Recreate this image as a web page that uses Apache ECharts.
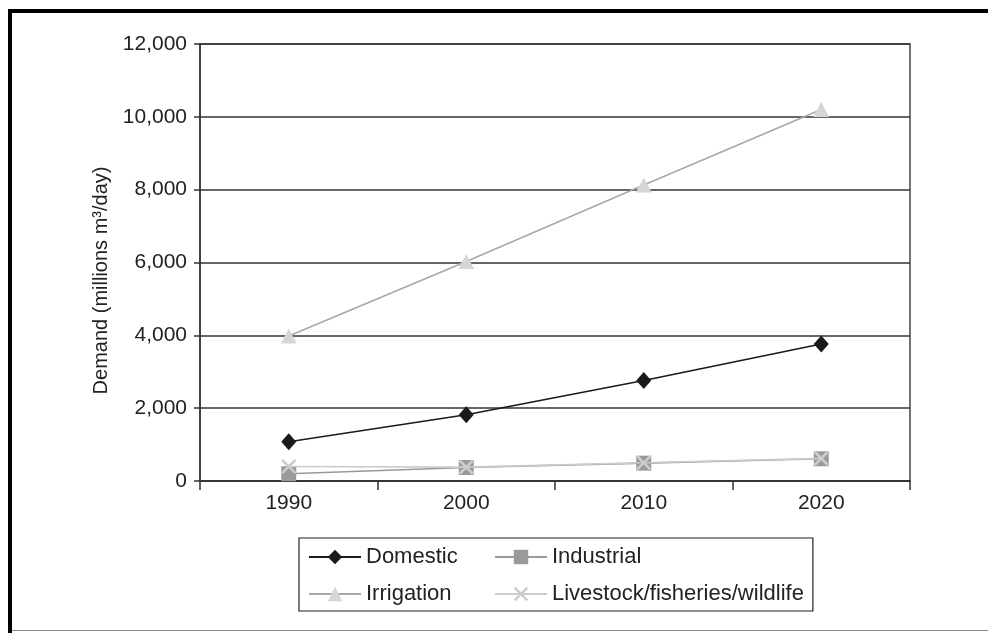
<!DOCTYPE html>
<html>
<head>
<meta charset="utf-8">
<script src="https://cdn.jsdelivr.net/npm/echarts@6/dist/echarts.min.js"></script>
<style>
html,body{margin:0;padding:0;background:#fff;}
#chart{width:988px;height:633px;}
</style>
</head>
<body>
<div id="chart"></div>
<script>
const years = ['1990', '2000', '2010', '2020'];
const domestic = [1080, 1820, 2760, 3760];
const industrial = [200, 370, 490, 610];
const irrigation = [3980, 6030, 8130, 10200];
const livestock = [400, 380, 500, 620];
const yAxisTitle = 'Demand (millions m³/day)';

const FONT = '"Liberation Sans", Arial, Helvetica, sans-serif';
const crossPath = 'path://M0,1.2L1.2,0L5,3.8L8.8,0L10,1.2L6.2,5L10,8.8L8.8,10L5,6.2L1.2,10L0,8.8L3.8,5Z';

const chart = echarts.init(document.getElementById('chart'), null, {renderer: 'canvas'});
const legendTextW = 113;
chart.setOption({
  animation: false,
  backgroundColor: '#fff',
  graphic: [
    {type: 'rect', shape: {x: 8, y: 9, width: 980, height: 4}, style: {fill: '#000'}},
    {type: 'rect', shape: {x: 8, y: 9, width: 4, height: 624}, style: {fill: '#000'}},
    {type: 'rect', shape: {x: 12, y: 630, width: 976, height: 1}, style: {fill: '#888'}}
  ],
  grid: {left: 200, right: 78, top: 44, bottom: 152, show: true, borderColor: '#444', borderWidth: 1.5, backgroundColor: 'transparent'},
  legend: {
    left: 299, top: 538,
    width: 500,
    orient: 'horizontal',
    padding: [8, 9, 6, 9],
    itemGap: 15,
    itemWidth: 52,
    itemHeight: 18,
    borderColor: '#222',
    borderWidth: 1.2,
    borderRadius: 0,
    textStyle: {fontFamily: FONT, fontSize: 22, color: '#222', lineHeight: 21},
    data: [
      {name: 'Domestic', textStyle: {width: legendTextW}},
      {name: 'Industrial', textStyle: {width: legendTextW}},
      {name: 'Irrigation', textStyle: {width: legendTextW}},
      {name: 'Livestock/fisheries/wildlife'}
    ]
  },
  xAxis: {
    type: 'category',
    data: years,
    boundaryGap: true,
    axisLine: {lineStyle: {color: '#333', width: 1.5}},
    axisTick: {show: true, length: 9, interval: 0, lineStyle: {color: '#333', width: 1.5}},
    axisLabel: {fontFamily: FONT, fontSize: 21, color: '#222', margin: 12},
    splitLine: {show: false}
  },
  yAxis: {
    type: 'value',
    min: 0, max: 12000, interval: 2000,
    name: yAxisTitle,
    nameLocation: 'middle',
    nameGap: 84,
    nameRotate: 90,
    nameTextStyle: {fontFamily: FONT, fontSize: 20, color: '#222', padding: [0, 36, 0, 0]},
    axisLine: {show: true, lineStyle: {color: '#333', width: 1.5}},
    axisTick: {show: true, length: 6, lineStyle: {color: '#333', width: 1.5}},
    axisLabel: {fontFamily: FONT, fontSize: 21, color: '#222', margin: 13,
      formatter: v => v.toLocaleString('en-US')},
    splitLine: {show: true, lineStyle: {color: '#333', width: 1.5}}
  },
  series: [
    {name: 'Domestic', type: 'line', data: domestic, symbol: 'diamond', symbolSize: [15, 17],
      lineStyle: {color: '#1a1a1a', width: 1.6}, itemStyle: {color: '#1a1a1a'}, z: 5},
    {name: 'Industrial', type: 'line', data: industrial, symbol: 'rect', symbolSize: 15,
      lineStyle: {color: '#9a9a9a', width: 1.6}, itemStyle: {color: '#9a9a9a'}, z: 3},
    {name: 'Irrigation', type: 'line', data: irrigation, symbol: 'triangle', symbolSize: [16, 15],
      lineStyle: {color: '#a8a8a8', width: 1.6}, itemStyle: {color: '#d6d6d6'}, z: 4},
    {name: 'Livestock/fisheries/wildlife', type: 'line', data: livestock, symbol: crossPath, symbolSize: 15,
      lineStyle: {color: '#cccccc', width: 1.6}, itemStyle: {color: '#cdcdcd'}, z: 4}
  ]
});
</script>
</body>
</html>
